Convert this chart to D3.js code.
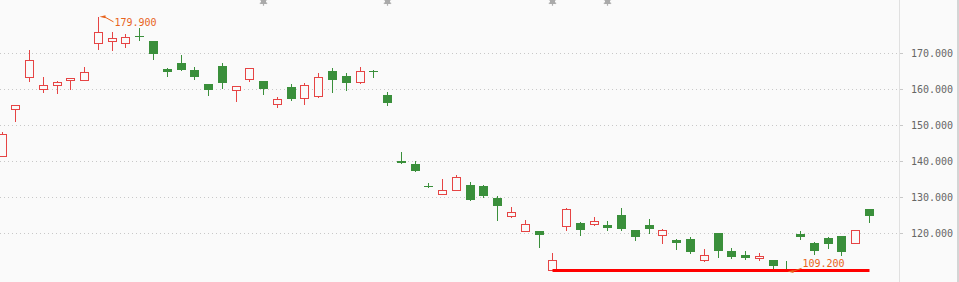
<!DOCTYPE html>
<html>
<head>
<meta charset="utf-8">
<script src="https://cdn.jsdelivr.net/npm/d3@7"></script>
<style>
  html, body { margin: 0; padding: 0; background: #fafafa; }
  svg { display: block; }
  .grid line { stroke: #c8c8c8; stroke-dasharray: 1,3; }
  .yaxis text { fill: #666; font-family: "DejaVu Sans Mono", monospace; font-size: 10px; }
  .yaxis line { stroke: #c8c8c8; }
  .note { fill: #e8631c; font-family: "DejaVu Sans Mono", monospace; font-size: 10px; }
</style>
</head>
<body>
<svg id="chart" width="959" height="282"></svg>
<script>
// daily candles, left to right
var opens  = [141.2,154.4,163.1,160.0,161.1,162.4,162.5,172.5,173.1,172.5,174.6,173.1,165.4,167.0,165.1,161.2,166.2,159.6,162.7,162.0,
              155.8,160.4,157.5,158.0,164.8,163.4,161.9,164.8,158.1,140.0,139.0,132.9,130.8,131.9,133.1,132.9,129.5,124.7,120.3,120.4,
              109.7,121.9,122.6,122.5,122.2,124.8,120.8,122.0,119.2,117.9,118.1,112.5,119.8,114.8,113.7,112.9,112.3,110.0,119.5,117.0,
              118.4,119.0,117.2,126.5];
var highs  = [147.9,155.3,170.6,163.1,162.2,162.8,165.9,179.9,175.6,175.0,176.75,173.1,165.6,169.25,166.1,161.2,167.0,160.8,165.6,162.0,
              157.6,161.2,161.5,164.25,165.6,164.25,165.9,165.1,159.0,142.3,139.9,133.7,134.8,135.9,134.0,133.1,130.1,127.0,123.6,120.4,
              114.2,126.7,122.9,124.2,123.1,126.7,120.8,123.7,121.1,118.1,118.7,115.4,119.8,115.6,114.8,114.25,112.3,112.1,120.4,117.3,
              118.7,119.0,120.8,126.5];
var lows   = [141.2,151.0,162.1,159.1,158.8,159.9,162.5,171.0,170.7,171.4,173.6,168.2,163.5,165.2,162.7,158.2,160.1,156.6,162.1,158.5,
              154.9,156.8,155.7,157.7,159.1,159.6,161.6,163.2,155.4,139.3,137.1,132.7,130.8,131.9,129.1,129.9,123.5,124.4,120.3,116.0,
              109.7,120.8,119.3,122.2,120.6,120.7,117.9,119.9,117.1,115.4,114.3,112.2,113.2,112.9,112.7,112.4,110.2,109.2,118.2,114.1,
              115.7,113.8,117.2,122.9];
var closes = [147.3,155.3,167.8,161.1,161.7,162.8,164.7,175.8,173.9,174.4,174.2,169.6,164.6,165.2,163.2,159.6,161.6,160.6,165.6,159.9,
              157.2,157.1,161.1,163.1,162.4,161.6,165.0,164.6,156.0,139.3,137.1,132.7,131.7,135.3,129.1,130.2,127.4,125.6,122.5,119.3,
              112.5,126.4,120.7,123.3,121.3,121.0,118.8,121.0,120.6,117.1,114.6,113.7,114.9,113.1,112.9,113.5,110.7,109.8,118.8,114.9,
              116.8,114.6,120.8,124.6];

var yTicks = [120, 130, 140, 150, 160, 170];
var markerIdx = [19, 28, 40, 44];          // grey event markers along the top
var highNote = { idx: 7, value: 179.9 };
var lowNote  = { idx: 57, value: 109.2 };
var supportLine = { from: 40, to: 63, value: 109.45 };

var upColor = "#e64444", downColor = "#3a8f3b", bg = "#fafafa";

var svg = d3.select("#chart"),
    W = +svg.attr("width"), H = +svg.attr("height"),
    plotRight = 899;

var x = d3.scaleLinear().domain([0, opens.length - 1]).range([2, 869.5]);
var y = d3.scaleLinear().domain([120, 170]).range([232.5, 52.5]);

function cx(i) { return Math.floor(x(i)) + 0.5; }
function py(v) { return Math.round(y(v)); }

var data = opens.map(function(o, i) {
    return { i: i, o: o, h: highs[i], l: lows[i], c: closes[i] };
});

// dotted grid
svg.append("g")
    .attr("class", "grid")
    .selectAll("line")
    .data(yTicks)
    .enter().append("line")
    .attr("x1", 0).attr("x2", 897)
    .attr("y1", function(d) { return py(d) + 0.5; })
    .attr("y2", function(d) { return py(d) + 0.5; });

// right axis
svg.append("line")
    .attr("x1", plotRight + 0.5).attr("x2", plotRight + 0.5)
    .attr("y1", 0).attr("y2", H)
    .attr("stroke", "#e0e0e0");
svg.append("line")
    .attr("x1", W - 1).attr("x2", W - 1)
    .attr("y1", 0).attr("y2", H)
    .attr("stroke", "#d4d4d4").attr("stroke-width", 2);

var yAxis = d3.axisRight(y)
    .tickValues(yTicks)
    .tickFormat(d3.format(".3f"))
    .tickSize(3)
    .tickPadding(8);

var ga = svg.append("g")
    .attr("class", "yaxis")
    .attr("transform", "translate(" + (plotRight + 1) + ",0)")
    .call(yAxis);
ga.select(".domain").remove();
ga.selectAll(".tick").attr("transform", function(d) { return "translate(0," + (py(d) + 0.5) + ")"; });

// candles
var plot = svg.append("g");

plot.selectAll("line.wick")
    .data(data)
    .enter().append("line")
    .attr("class", "wick")
    .attr("x1", function(d) { return cx(d.i); })
    .attr("x2", function(d) { return cx(d.i); })
    .attr("y1", function(d) { return py(d.h); })
    .attr("y2", function(d) { return py(d.l) + 1; })
    .attr("stroke", function(d) { return d.c >= d.o ? upColor : downColor; });

plot.selectAll("rect.body")
    .data(data)
    .enter().append("rect")
    .attr("class", "body")
    .each(function(d) {
        var yt = py(Math.max(d.o, d.c)), yb = py(Math.min(d.o, d.c));
        var r = d3.select(this);
        if (d.c >= d.o) {
            r.attr("x", cx(d.i) - 4).attr("width", 8)
             .attr("y", yt + 0.5).attr("height", Math.max(yb - yt, 1))
             .attr("fill", bg).attr("stroke", upColor);
        } else {
            r.attr("x", cx(d.i) - 4.5).attr("width", 9)
             .attr("y", yt).attr("height", Math.max(yb - yt, 1))
             .attr("fill", downColor);
        }
    });

// support line
svg.append("line")
    .attr("x1", cx(supportLine.from)).attr("x2", cx(supportLine.to))
    .attr("y1", y(supportLine.value)).attr("y2", y(supportLine.value))
    .attr("stroke", "#ff0000").attr("stroke-width", 3);

// event markers
var mk = svg.append("g").selectAll("g")
    .data(markerIdx)
    .enter().append("g")
    .attr("transform", function(d) { return "translate(" + cx(d) + ",1.5)"; });
mk.append("path")
    .attr("d", d3.symbol().type(d3.symbolAsterisk).size(50))
    .attr("stroke", "#b0b0b0").attr("stroke-width", 1.2).attr("fill", "none");
mk.append("rect")
    .attr("x", -2.5).attr("y", -2.5).attr("width", 5).attr("height", 5)
    .attr("fill", "#aaa");

// max / min notes
function note(n, dy, tdy) {
    var x0 = cx(n.idx), y0 = y(n.value);
    var g = svg.append("g");
    g.append("path")
        .attr("d", "M" + (x0 + 1) + "," + y0 + "l6,-1.5l0,3z")
        .attr("fill", "#e8631c");
    g.append("path")
        .attr("d", "M" + (x0 + 6) + "," + y0 + "L" + (x0 + 15) + "," + (y0 + dy))
        .attr("stroke", "#e8631c").attr("fill", "none");
    g.append("text")
        .attr("class", "note")
        .attr("x", x0 + 16)
        .attr("y", y0 + tdy)
        .attr("dy", "0.35em")
        .text(d3.format(".3f")(n.value));
}
note(highNote, 5, 6);
note(lowNote, -3, -7.5);
</script>
</body>
</html>
